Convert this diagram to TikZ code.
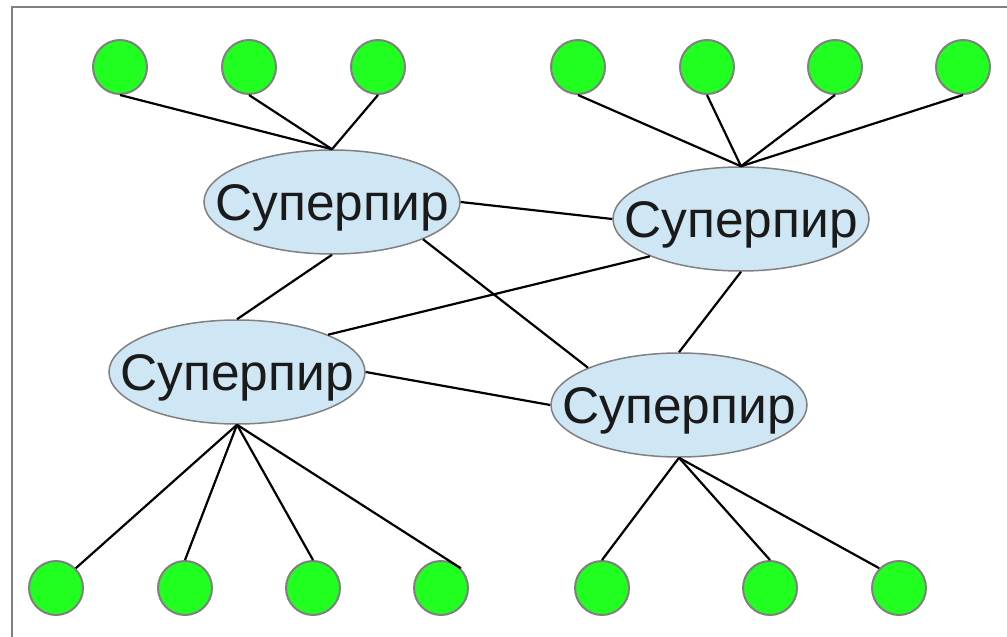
\documentclass[tikz,border=0pt]{standalone}
\usepackage{fontspec}
\setmainfont{Liberation Sans}
\usetikzlibrary{shapes.geometric}
\definecolor{peerfill}{RGB}{32,255,32}
\definecolor{superfill}{RGB}{207,230,244}
\definecolor{rim}{RGB}{128,128,128}
\definecolor{labeltext}{RGB}{26,26,26}
\begin{document}
\begin{tikzpicture}[x=1pt,y=-1pt,
  peer/.style={circle,fill=peerfill,draw=rim,line width=2pt,minimum size=54pt,inner sep=0pt},
  super/.style={ellipse,fill=superfill,draw=rim,line width=1.5pt,minimum width=256pt,minimum height=104pt,inner sep=0pt,
    label={[text=labeltext,font=\fontsize{51.5}{60}\selectfont,text height=37pt,text depth=0pt,inner sep=0pt]center:Суперпир}},
  link/.style={draw=black,line width=2.2pt}]
\useasboundingbox (0,0) rectangle (1007,637);
\fill[white] (0,0) rectangle (1007,637);
% frame
\draw[rim,line width=2pt] (12,637) -- (12,7) -- (1007,7);

% superpeers
\node[super] (e1) at (332,202) {};
\node[super] (e2) at (741,219) {};
\node[super] (e3) at (237,372) {};
\node[super] (e4) at (679,405) {};

% peers, top row
\node[peer] (t1) at (120,67) {};
\node[peer] (t2) at (249,67) {};
\node[peer] (t3) at (378,67) {};
\node[peer] (t4) at (578,67) {};
\node[peer] (t5) at (707,67) {};
\node[peer] (t6) at (835,67) {};
\node[peer] (t7) at (963,67) {};

% peers, bottom row
\node[peer] (b1) at (56,588) {};
\node[peer] (b2) at (185,588) {};
\node[peer] (b3) at (313,588) {};
\node[peer] (b4) at (441,588) {};
\node[peer] (b5) at (602,588) {};
\node[peer] (b6) at (770,588) {};
\node[peer] (b7) at (899,588) {};

% peer links
\foreach \p in {t1,t2,t3} \path[link] (\p.south) -- (e1.north);
\foreach \p in {t4,t5,t6,t7} \path[link] (\p.south) -- (e2.north);
\path[link] (e3.south) -- (b1.north east);
\path[link] (e3.south) -- (b2.north);
\path[link] (e3.south) -- (b3.north);
\path[link] (e3.south) -- (b4.north east);
\path[link] (e4.south) -- (b5.north);
\path[link] (e4.south) -- (b6.north);
\path[link] (e4.south) -- (b7.north west);

% superpeer links
\path[link] (e1.east) -- (e2.west);
\path[link] (e1.south) -- (e3.north);
\path[link] (e1.south east) -- (e4.north west);
\path[link] (e2.south west) -- (e3.north east);
\path[link] (e2.south) -- (e4.north);
\path[link] (e3.east) -- (e4.west);
\end{tikzpicture}
\end{document}
